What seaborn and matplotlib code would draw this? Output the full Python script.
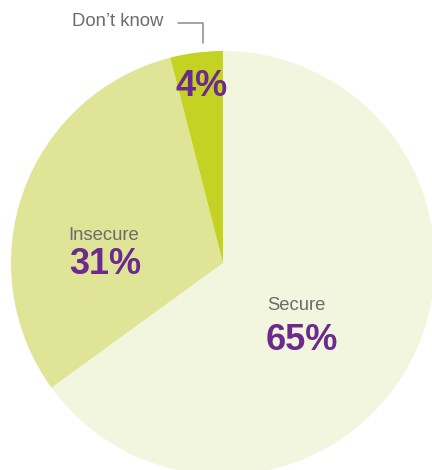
import matplotlib
matplotlib.use("Agg")
import matplotlib.pyplot as plt
import seaborn as sns

labels = ["Secure", "Insecure", "Don’t know"]
shares = [65, 31, 4]
colors = ["#f3f6de", "#dfe497", "#c4d224"]

sns.set_theme(style="white")
plt.rcParams["font.family"] = ["Liberation Sans", "DejaVu Sans"]

PURPLE = "#6b2a8c"
GREY = "#6b6b6b"

fig = plt.figure(figsize=(4.32, 4.70), dpi=100)
ax = fig.add_axes([0, 0, 1, 1])

# pie centre/radius in pixel coords (y up)
cx, cy, r = 223, 207, 212
ax.pie(shares, colors=colors, startangle=90, counterclock=False,
       center=(cx, cy), radius=r, wedgeprops={"linewidth": 0})
ax.set_xlim(0, 432)
ax.set_ylim(0, 470)
ax.set_aspect("equal")
ax.axis("off")

# inside labels
ax.text(104, 470 - 236, "Insecure", ha="center", va="center", fontsize=13.3, color=GREY)
ax.text(105, 470 - 265, f"{shares[1]}%", ha="center", va="center", fontsize=26,
        fontweight="bold", color=PURPLE)
ax.text(296, 470 - 306, "Secure", ha="center", va="center", fontsize=13.3, color=GREY)
ax.text(302, 470 - 340, f"{shares[0]}%", ha="center", va="center", fontsize=26,
        fontweight="bold", color=PURPLE)
ax.text(202, 470 - 86, f"{shares[2]}%", ha="center", va="center", fontsize=26,
        fontweight="bold", color=PURPLE)

# outside label with leader
ax.text(163, 470 - 22, labels[2], ha="right", va="center", fontsize=13.3, color=GREY)
ax.plot([178, 203, 203], [470 - 23, 470 - 23, 470 - 43], color="#8a8a8a", lw=1.1)

fig.savefig("out.png", dpi=100)
